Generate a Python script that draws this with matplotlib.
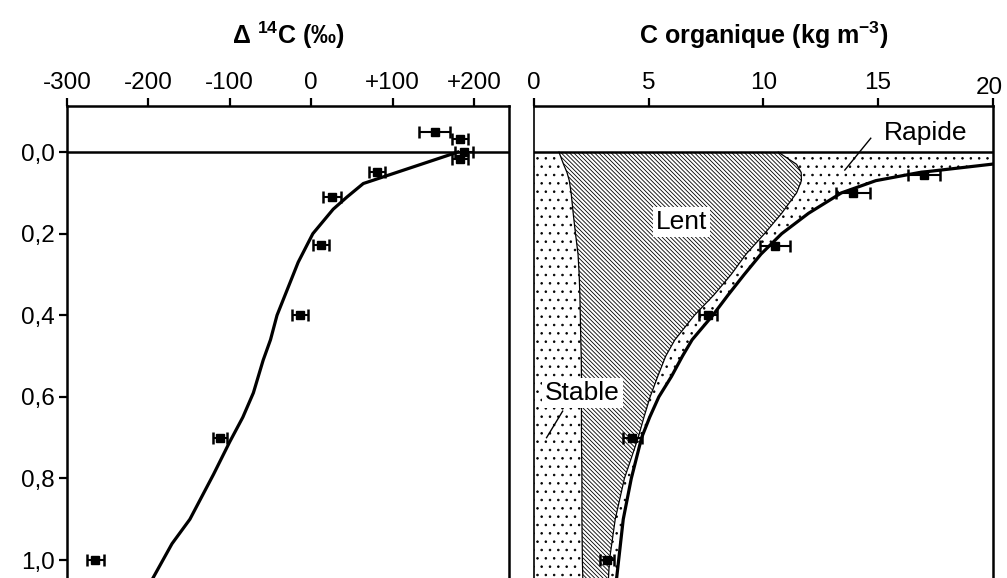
import numpy as np
import matplotlib.pyplot as plt
from matplotlib.transforms import ScaledTranslation

plt.rcParams['font.family'] = ['Liberation Sans', 'DejaVu Sans']
plt.rcParams['mathtext.fontset'] = 'custom'
plt.rcParams['mathtext.rm'] = 'Liberation Sans'
plt.rcParams['mathtext.bf'] = 'Liberation Sans:bold'
plt.rcParams['mathtext.default'] = 'bf'
plt.rcParams['hatch.linewidth'] = 0.6

# panneau gauche : delta 14C
prof_obs = [-0.05, -0.032, 0.0, 0.017, 0.049, 0.11, 0.228, 0.40, 0.70, 1.0]
d14c_obs = [152, 183, 188, 183, 81, 26, 12, -14, -112, -265]
d14c_err = [19, 10, 11, 10, 10, 11, 10, 10, 9, 10]

prof_mod = [0.0, 0.077, 0.11, 0.14, 0.2, 0.27, 0.34, 0.40, 0.46, 0.51, 0.59, 0.65,
            0.71, 0.79, 0.9, 0.96, 1.05]
d14c_mod = [180, 64, 44, 27, 2, -16, -30, -42, -50, -59, -71, -84,
            -100, -120, -149, -171, -196]

d14c_ticks = [-300, -200, -100, 0, 100, 200]
d14c_labels = ['-300', '-200', '-100', '0', '+100', '+200']
prof_ticks = [0.0, 0.2, 0.4, 0.6, 0.8, 1.0]
prof_labels = ['0,0', '0,2', '0,4', '0,6', '0,8', '1,0']

# panneau droit : C organique
prof_c = [0.056, 0.10, 0.23, 0.40, 0.70, 1.0]
corg_obs = [17.0, 13.9, 10.5, 7.6, 4.3, 3.2]
corg_err = [0.7, 0.75, 0.65, 0.4, 0.4, 0.3]

prof = [0.0, 0.03, 0.05, 0.07, 0.1, 0.15, 0.2, 0.25, 0.3, 0.35, 0.4, 0.46,
        0.5, 0.55, 0.6, 0.65, 0.7, 0.8, 0.9, 1.0, 1.05]
stable = [1.1, 1.3, 1.45, 1.55, 1.63, 1.72, 1.82, 1.93, 1.98, 2.01, 2.03, 2.05,
          2.07, 2.08, 2.08, 2.08, 2.08, 2.1, 2.1, 2.12, 2.14]
lent = [10.65, 11.45, 11.65, 11.66, 11.45, 10.8, 10.05, 9.25, 8.6, 7.85, 7.0, 6.15,
        5.75, 5.4, 5.07, 4.8, 4.55, 3.95, 3.55, 3.3, 3.25]
total = [24.0, 19.9, 16.8, 14.9, 13.4, 11.97, 10.8, 9.9, 9.17, 8.47, 7.8, 6.9,
         6.48, 6.0, 5.45, 5.05, 4.7, 4.25, 3.9, 3.7, 3.6]

corg_ticks = [0, 5, 10, 15, 20]

fig = plt.figure(figsize=(10.07, 5.78), dpi=100)
ax1 = fig.add_axes([0.0665, 0.0, 0.439, 0.8166])
ax2 = fig.add_axes([0.530, 0.0, 0.456, 0.8166])

fs = 17.5

for ax in (ax1, ax2):
    ax.set_ylim(1.044, -0.113)
    ax.xaxis.tick_top()
    ax.spines['bottom'].set_visible(False)
    for s in ('top', 'left', 'right'):
        ax.spines[s].set_linewidth(1.8)
    ax.tick_params(axis='x', direction='out', length=6, width=1.6, labelsize=fs, pad=3)
    ax.tick_params(axis='y', direction='out', length=6, width=1.6, labelsize=fs, pad=3)
    ax.axhline(0, color='k', lw=1.8, zorder=4)

# gauche
ax1.set_xlim(-300, 243)
ax1.set_xticks(d14c_ticks)
ax1.set_xticklabels(d14c_labels)
ax1.set_yticks(prof_ticks)
ax1.set_yticklabels(prof_labels)
ax1.plot(d14c_mod, prof_mod, color='k', lw=2.3, zorder=3)
ax1.errorbar(d14c_obs, prof_obs, xerr=d14c_err, fmt='s', color='k', ms=5.5,
             elinewidth=1.5, capsize=4.5, capthick=1.8, zorder=5)

# droite
ax2.set_xlim(0, 20)
ax2.set_xticks(corg_ticks)
ax2.set_yticks([])
ax2.spines['left'].set_linewidth(1.2)
ax2.fill_betweenx(prof, 0, stable, facecolor='white', edgecolor='k', hatch='..', lw=0, zorder=1)
ax2.fill_betweenx(prof, stable, lent, facecolor='white', edgecolor='k', hatch='\\' * 8, lw=0, zorder=1)
ax2.fill_betweenx(prof, lent, total, facecolor='white', edgecolor='k', hatch='..', lw=0, zorder=1)
ax2.plot(stable, prof, color='k', lw=0.9, zorder=2)
ax2.plot(lent, prof, color='k', lw=0.9, zorder=2)
ax2.plot(total, prof, color='k', lw=2.3, zorder=3)
ax2.errorbar(corg_obs, prof_c, xerr=corg_err, fmt='s', color='k', ms=5.5,
             elinewidth=1.5, capsize=4.5, capthick=1.8, zorder=5)

# le "20" un peu decale, comme dans l'original
lab20 = ax2.get_xticklabels()[-1]
lab20.set_transform(lab20.get_transform() + ScaledTranslation(-0.04, -0.05, fig.dpi_scale_trans))

box = dict(facecolor='white', edgecolor='none', pad=2)
ax2.text(17.06, -0.047, 'Rapide', fontsize=19, ha='center', va='center', bbox=box, zorder=6)
ax2.text(6.45, 0.172, 'Lent', fontsize=19, ha='center', va='center', bbox=box, zorder=6)
ax2.text(2.12, 0.59, 'Stable', fontsize=19, ha='center', va='center', bbox=box, zorder=6)
ax2.plot([13.55, 14.68], [0.044, -0.034], color='k', lw=1, zorder=6)
ax2.plot([1.26, 0.56], [0.635, 0.70], color='k', lw=1, zorder=6)

fig.text(0.286, 0.939, r'Δ $^{14}$C (‰)', fontsize=18, fontweight='bold', ha='center', va='center')
fig.text(0.758, 0.939, r'C organique (kg m$^{-3}$)', fontsize=18, fontweight='bold', ha='center', va='center')

fig.savefig('out.png', dpi=100)
